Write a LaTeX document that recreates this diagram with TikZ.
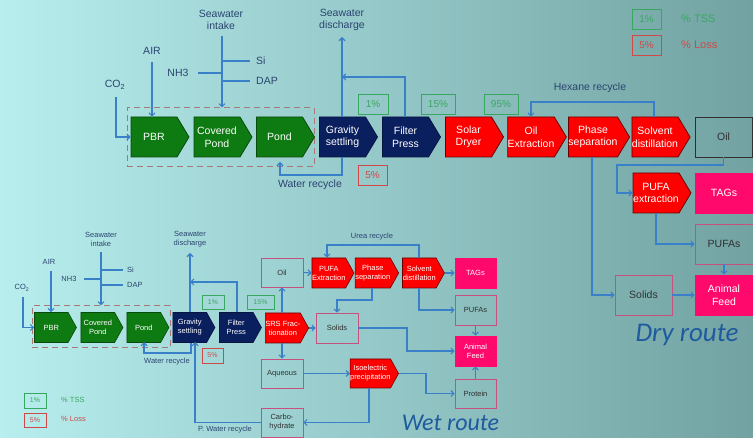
\documentclass[tikz,border=0pt]{standalone}
\usepackage{fontspec}
\setmainfont{Liberation Sans}
\newfontfamily\routefont{Carlito}
\usetikzlibrary{shapes.symbols,arrows.meta}
\definecolor{bgl}{HTML}{B8EEEE}
\definecolor{bgr}{HTML}{72A2A2}
\definecolor{grn}{HTML}{0E7A12}
\definecolor{grnd}{HTML}{0A4A0C}
\definecolor{navy}{HTML}{0A1F5E}
\definecolor{navyd}{HTML}{061440}
\definecolor{redf}{HTML}{FF0000}
\definecolor{redd}{HTML}{6A0000}
\definecolor{pinkf}{HTML}{FF0A6C}
\definecolor{pinkb}{HTML}{C8507E}
\definecolor{flow}{HTML}{3A80C8}
\definecolor{lbl}{HTML}{2A4470}
\definecolor{tssg}{HTML}{38A860}
\definecolor{lossr}{HTML}{D04848}
\definecolor{dashc}{HTML}{A87878}
\definecolor{routeb}{HTML}{1E5A9E}
\definecolor{dtext}{HTML}{303030}
\tikzset{
  bigstep/.style={signal, signal to=east, signal pointer angle=118, minimum width=58pt, minimum height=40pt, inner sep=0pt, text=white, align=center, font=\fontsize{10.5}{12.5}\selectfont, line width=0.8pt, xshift=-6pt},
  smallstep/.style={signal, signal to=east, signal pointer angle=122, minimum width=42pt, minimum height=30pt, inner sep=0pt, text=white, align=center, font=\fontsize{7.5}{9}\selectfont, line width=0.6pt, xshift=-4.2pt},
  gstep/.style={fill=grn, draw=grnd},
  nstep/.style={fill=navy, draw=navyd},
  rstep/.style={fill=redf, draw=redd},
  bigbox/.style={rectangle, minimum width=58pt, minimum height=40pt, inner sep=0pt, align=center, font=\fontsize{10.5}{12.5}\selectfont, line width=0.8pt},
  smallbox/.style={rectangle, minimum width=42pt, minimum height=29pt, inner sep=0pt, align=center, font=\fontsize{7.5}{9}\selectfont, line width=0.6pt},
  pfill/.style={fill=pinkf, draw=pinkf, text=white},
  pout/.style={draw=pinkb, text=dtext},
  arr/.style={draw=flow, line width=1.1pt, -{Straight Barb[length=3pt,width=6pt]}},
  ln/.style={draw=flow, line width=1.1pt},
  biglbl/.style={text=lbl, align=center, font=\fontsize{10.5}{12}\selectfont, inner sep=0pt},
  smalllbl/.style={text=lbl, align=center, font=\fontsize{7.5}{9}\selectfont, inner sep=0pt},
  tssbox/.style={draw=tssg, text=tssg, line width=0.8pt, inner sep=0pt},
  lossbox/.style={draw=lossr, text=lossr, line width=0.8pt, inner sep=0pt},
  dbox/.style={draw=dashc, dashed, dash pattern=on 6pt off 4pt, line width=1pt, inner sep=0pt},
}
\begin{document}
\begin{tikzpicture}[x=1pt,y=-1pt]
\useasboundingbox (0,0) rectangle (753,438);
\shade[left color=bgl, right color=bgr] (0,0) rectangle (753,438);

% ================= DRY ROUTE (top) =================
\node[dbox, minimum width=187pt, minimum height=59pt] (db) at (220.5,137.5) {};
\node[bigstep, gstep] (pbr) at (160,137) {PBR};
\node[bigstep, gstep] (cp) at (223,137) {Covered\\Pond};
\node[bigstep, gstep] (pond) at (285.5,137) {Pond};
\node[bigstep, nstep] (gs) at (348.5,137) {Gravity\\settling};
\node[bigstep, nstep] (fp) at (411.5,137) {Filter\\Press};
\node[bigstep, rstep] (sd) at (474.5,137) {Solar\\Dryer};
\node[bigstep, rstep] (oe) at (537,137) {Oil\\Extraction};
\node[bigstep, rstep] (ps) at (599,137) {Phase\\separation};
\node[bigstep, rstep] (sdist) at (661,137) {Solvent\\distillation};
\node[bigbox, draw=dtext, text=dtext, minimum width=57pt] (oil) at (723.5,137) {Oil};

\node[bigstep, rstep] (pufa) at (662,193) {PUFA\\extraction};
\node[bigbox, pfill] (tags) at (724,193) {TAGs};
\node[bigbox, pout] (pufas) at (724,244) {PUFAs};
\node[bigbox, pfill] (afeed) at (724,295) {Animal\\Feed};
\node[bigbox, pout, minimum width=57pt] (solids) at (643.5,295) {Solids};

% labels
\node[biglbl] (co2) at (115,85) {CO\textsubscript{2}};
\node[biglbl] (air) at (152,51) {AIR};
\node[biglbl] (nh3) at (178,73) {NH3};
\node[biglbl, anchor=west] (si) at (256,61) {Si};
\node[biglbl, anchor=west] (dap) at (256,81) {DAP};
\node[biglbl] (swi) at (221,20) {Seawater\\intake};
\node[biglbl] (swd) at (342,20) {Seawater\\discharge};
\node[biglbl] (wrl) at (310,185) {Water recycle};
\node[biglbl] (hxl) at (590,88) {Hexane recycle};

% percentage boxes
\node[tssbox, minimum width=30pt, minimum height=20pt, font=\fontsize{10}{12}\selectfont] (p1) at (373,104) {1\%};
\node[tssbox, minimum width=34pt, minimum height=20pt, font=\fontsize{10}{12}\selectfont] (p15) at (438,104) {15\%};
\node[tssbox, minimum width=34pt, minimum height=20pt, font=\fontsize{10}{12}\selectfont] (p95) at (501,104) {95\%};
\node[lossbox, minimum width=29pt, minimum height=20pt, font=\fontsize{10}{12}\selectfont] (p5) at (372.5,175) {5\%};
% legend
\node[tssbox, minimum width=29pt, minimum height=20pt, font=\fontsize{10}{12}\selectfont] (lg1) at (646.5,19) {1\%};
\node[lossbox, minimum width=29pt, minimum height=20pt, font=\fontsize{10}{12}\selectfont] (lg5) at (646.5,45) {5\%};
\node[anchor=west, text=tssg, font=\fontsize{11}{13}\selectfont, inner sep=0pt] (lgt) at (681,19) {\% TSS};
\node[anchor=west, text=lossr, font=\fontsize{11}{13}\selectfont, inner sep=0pt] (lgl) at (681,45) {\% Loss};

\node[text=routeb, font=\routefont\itshape\fontsize{27}{30}\selectfont, inner sep=0pt, anchor=base] (dry) at (687,342) {Dry route};

% coordinates
\coordinate (co2s) at (116,97);
\coordinate (airs) at (152,62);
\coordinate (swis) at (222,36);
\coordinate (nh3e) at (198,73);
\coordinate (sie) at (250,61);
\coordinate (dape) at (250,81);
\coordinate (swdt) at (342,37);
\coordinate (fprec) at (405,77);
\coordinate (wr1) at (342,175);
\coordinate (wr2) at (280,162);
\coordinate (hx1) at (654,102);
\coordinate (hx2) at (531,102);
\coordinate (d1) at (617,165);
\coordinate (d2) at (656,213);
\coordinate (d3) at (592,157);

% connectors
\draw[arr] (co2s) |- (pbr.west);
\draw[arr] (airs) -- (airs |- pbr.north);
\draw[arr] (swis) -- (swis |- db.north);
\draw[ln] (nh3e) -- (nh3e -| swis);
\draw[ln] (sie -| swis) -- (sie);
\draw[ln] (dape -| swis) -- (dape);
\draw[arr] (swdt |- gs.north) -- (swdt);
\draw[arr] (fprec |- fp.north) -- (fprec) -- (fprec -| swdt);
\draw[arr] (wr1 |- gs.south) -- (wr1) -| (wr2);
\draw[arr] (hx1 |- sdist.north) -- (hx1) -- (hx2) -- (hx2 |- oe.north);
\draw[arr] (oil.south) |- (d1) |- (pufa.west);
\draw[arr] (d2) |- (pufas.west);
\draw[arr] (pufas.south) -- (afeed.north);
\draw[arr] (solids.east) -- (afeed.west);
\draw[arr] (d3) |- (solids.west);

% ================= WET ROUTE (bottom) =================
\node[dbox, minimum width=138pt, minimum height=42pt] (db2) at (101,327) {};
\node[smallstep, gstep] (pbr2) at (55.5,327.5) {PBR};
\node[smallstep, gstep] (cp2) at (102,327.5) {Covered\\Pond};
\node[smallstep, gstep] (pond2) at (148,327.5) {Pond};
\node[smallstep, nstep] (gs2) at (194,327.5) {Gravity\\settling};
\node[smallstep, nstep] (fp2) at (240.5,327.5) {Filter\\Press};
\node[smallstep, rstep] (srs) at (287,328) {SRS Frac-\\tionation};

\node[smallbox, pout] (oil2) at (282,272.5) {Oil};
\node[smallbox, pout] (aq) at (282,373.5) {Aqueous};
\node[smallbox, pout, minimum height=30pt] (solids2) at (337,328) {Solids};
\node[smallbox, pout] (carbo) at (282,422.5) {Carbo-\\hydrate};
\node[smallstep, rstep] (pufae) at (333,273) {PUFA\\Extraction};
\node[smallstep, rstep] (phs) at (377,273) {Phase\\separation};
\node[smallstep, rstep] (solvd) at (423.5,273) {Solvent\\distillation};
\node[smallbox, pfill, minimum width=41pt, minimum height=30pt] (tags2) at (475.5,273) {TAGs};
\node[smallbox, pout, minimum width=41pt, minimum height=30pt] (pufas2) at (475.5,310) {PUFAs};
\node[smallbox, pfill, minimum width=41pt, minimum height=30pt] (afeed2) at (475.5,351) {Animal\\Feed};
\node[smallbox, pout, minimum width=41pt] (protein) at (475.5,393.5) {Protein};
\node[smallstep, rstep, minimum width=43pt, minimum height=29pt] (iso) at (374.5,373.5) {Isoelectric\\precipitation};

% labels
\node[smalllbl] (co2b) at (22,288) {CO\textsubscript{2}};
\node[smalllbl] (air2) at (49,262) {AIR};
\node[smalllbl] (nh32) at (69,279) {NH3};
\node[smalllbl, anchor=west] (si2) at (127,270) {Si};
\node[smalllbl, anchor=west] (dap2) at (127,285) {DAP};
\node[smalllbl] (swi2) at (101,239.5) {Seawater\\intake};
\node[smalllbl] (swd2) at (190,239.5) {Seawater\\discharge};
\node[smalllbl] (wrl2) at (167,362) {Water recycle};
\node[smalllbl] (pwrl) at (225,430) {P. Water recycle};
\node[smalllbl] (url) at (372,237) {Urea recycle};

\node[tssbox, minimum width=22pt, minimum height=14pt, font=\fontsize{7}{8}\selectfont] (q1) at (213,302) {1\%};
\node[tssbox, minimum width=27pt, minimum height=14pt, font=\fontsize{7}{8}\selectfont] (q15) at (260.5,302) {15\%};
\node[lossbox, minimum width=21pt, minimum height=15pt, font=\fontsize{7}{8}\selectfont] (q5) at (212.5,355.5) {5\%};
\node[tssbox, minimum width=22pt, minimum height=15pt, font=\fontsize{7}{8}\selectfont] (lq1) at (35,400.5) {1\%};
\node[lossbox, minimum width=22pt, minimum height=14pt, font=\fontsize{7}{8}\selectfont] (lq5) at (35,420) {5\%};
\node[anchor=west, text=tssg, font=\fontsize{7.5}{9}\selectfont, inner sep=0pt] (lqt) at (61,400) {\% TSS};
\node[anchor=west, text=lossr, font=\fontsize{7.5}{9}\selectfont, inner sep=0pt] (lql) at (61,419) {\% Loss};

\node[text=routeb, font=\routefont\itshape\fontsize{24}{28}\selectfont, inner sep=0pt, anchor=base] (wet) at (450.5,431) {Wet route};

% coordinates
\coordinate (bco2s) at (23,297);
\coordinate (bairs) at (51,271);
\coordinate (bswis) at (101,252);
\coordinate (bnh3e) at (84,279);
\coordinate (bsie) at (123,270);
\coordinate (bdape) at (123,285);
\coordinate (bswdt) at (190,253);
\coordinate (bfprec) at (237,282);
\coordinate (bwr1) at (191,353);
\coordinate (bwr2) at (144,342);
\coordinate (bpw) at (195,342);
\coordinate (ur1) at (419,245);
\coordinate (ur2) at (327,245);
\coordinate (ph1) at (372,300);
\coordinate (ph2) at (337,300);
\coordinate (sv1) at (419,310);
\coordinate (so1) at (407,351);
\coordinate (is1) at (426,393.5);
\coordinate (is2) at (369,422.5);

\draw[arr] (bco2s) |- (pbr2.west);
\draw[arr] (bairs) -- (bairs |- pbr2.north);
\draw[arr] (bswis) -- (bswis |- db2.north);
\draw[ln] (bnh3e) -- (bnh3e -| bswis);
\draw[ln] (bsie -| bswis) -- (bsie);
\draw[ln] (bdape -| bswis) -- (bdape);
\draw[arr] (bswdt |- gs2.north) -- (bswdt);
\draw[arr] (bfprec |- fp2.north) -- (bfprec) -- (bfprec -| bswdt);
\draw[arr] (bwr1 |- gs2.south) -- (bwr1) -| (bwr2);
\draw[arr] (carbo.west) -| (bpw);
\draw[arr] (oil2.south |- srs.north) -- (oil2.south);
\draw[arr] (aq.north |- srs.south) -- (aq.north);
\draw[arr] (srs.east) -- (solids2.west);
\draw[arr] (oil2.east) -- (pufae.west);
\draw[arr] (solvd.east) -- (tags2.west);
\draw[arr] (ur1 |- solvd.north) -- (ur1) -- (ur2) -- (ur2 |- pufae.north);
\draw[arr] (ph1 |- phs.south) -- (ph1) -- (ph2) -- (ph2 |- solids2.north);
\draw[arr] (sv1 |- solvd.south) |- (pufas2.west);
\draw[arr] (pufas2.south) -- (afeed2.north);
\draw[arr] (solids2.east) -| (so1) -- (afeed2.west);
\draw[arr] (aq.east) -- (iso.west);
\draw[arr] (iso.east) -| (is1) -- (protein.west);
\draw[arr] (protein.north) -- (afeed2.south);
\draw[arr] (is2 |- iso.south) |- (carbo.east);
\end{tikzpicture}
\end{document}
